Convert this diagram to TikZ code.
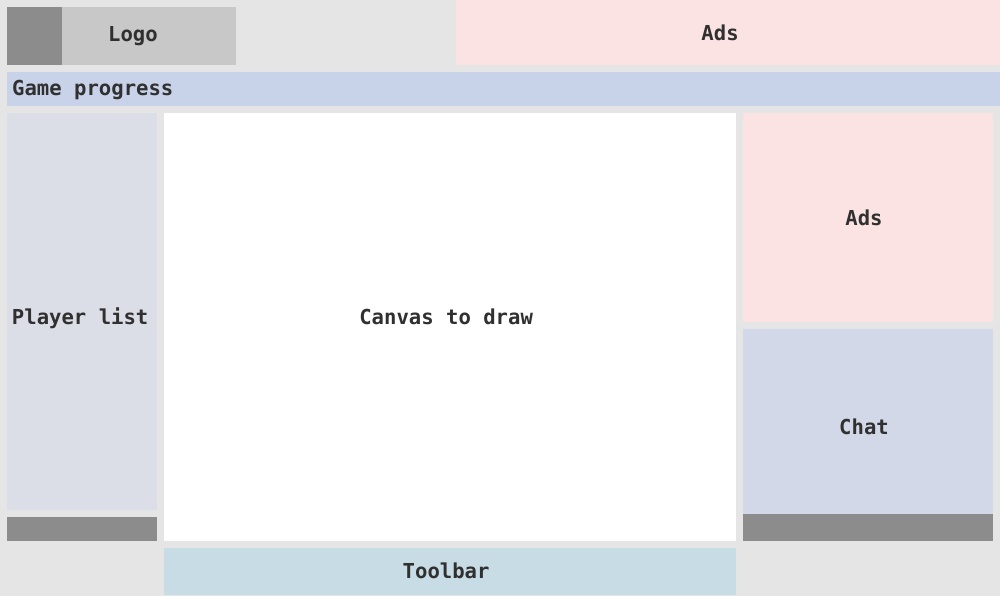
\documentclass[tikz,border=0pt]{standalone}
\usepackage{fontspec}
\setmonofont{DejaVu Sans Mono}
\usetikzlibrary{positioning}

\definecolor{pagebg}{HTML}{E5E5E5}
\definecolor{darkbar}{HTML}{8C8C8C}
\definecolor{logobg}{HTML}{C8C8C8}
\definecolor{adsbg}{HTML}{FBE3E3}
\definecolor{progbg}{HTML}{C8D2E8}
\definecolor{playerbg}{HTML}{DCDEE7}
\definecolor{chatbg}{HTML}{D2D8E7}
\definecolor{toolbg}{HTML}{C8DCE6}
\definecolor{labeltext}{HTML}{303030}

\begin{document}
\begin{tikzpicture}[x=1pt, y=-1pt, area/.style={rectangle, anchor=north west, inner sep=0pt, text=labeltext, text height=18.8pt, text depth=4pt, execute at end node={\hspace*{8pt}}, font=\ttfamily\bfseries\fontsize{20.6}{24}\selectfont}, bar/.style={area, fill=darkbar}, lower/.style={text height=29.8pt}]
	% page
	\fill[pagebg] (0,0) rectangle (1000,596);

	% header
	\node[bar, minimum width=55pt, minimum height=58pt] (logoicon) at (7,7) {}; %
	\node[area, fill=logobg, minimum width=174pt, minimum height=58pt, text width=174pt, align=flush left, text depth=8pt] (logo) at (62,7) {\hspace*{46pt}Logo}; %
	\node[area, fill=adsbg, minimum width=544pt, minimum height=65pt, execute at end node={\hspace*{8pt}}] (topads) at (456,0) {Ads}; %
	\node[area, fill=progbg, minimum width=993pt, minimum height=34pt, text width=983pt, inner xsep=5pt, align=flush left, text depth=6pt] (progress) at (7,72) {Game progress}; %

	% left column
	\node[area, lower, fill=playerbg, minimum width=150pt, minimum height=397pt, execute at end node={\hspace*{-4pt}}] (players) at (7,113) {Player list}; %
	\node[bar, minimum width=150pt, minimum height=24pt] (playerbar) at (7,517) {}; %

	% middle
	\node[area, fill=white, minimum width=572pt, minimum height=428pt, text depth=24pt] (canvas) at (164,113) {Canvas to draw}; %
	\node[area, fill=toolbg, minimum width=572pt, minimum height=47pt] (toolbar) at (164,548) {Toolbar}; %

	% right column
	\node[area, fill=adsbg, minimum width=250pt, minimum height=209pt] (sideads) at (743,113) {Ads}; %
	\node[area, lower, fill=chatbg, minimum width=250pt, minimum height=185pt] (chat) at (743,329) {Chat}; %
	\node[bar, minimum width=250pt, minimum height=27pt] (chatbar) at (743,514) {}; %
\end{tikzpicture}
\end{document}
